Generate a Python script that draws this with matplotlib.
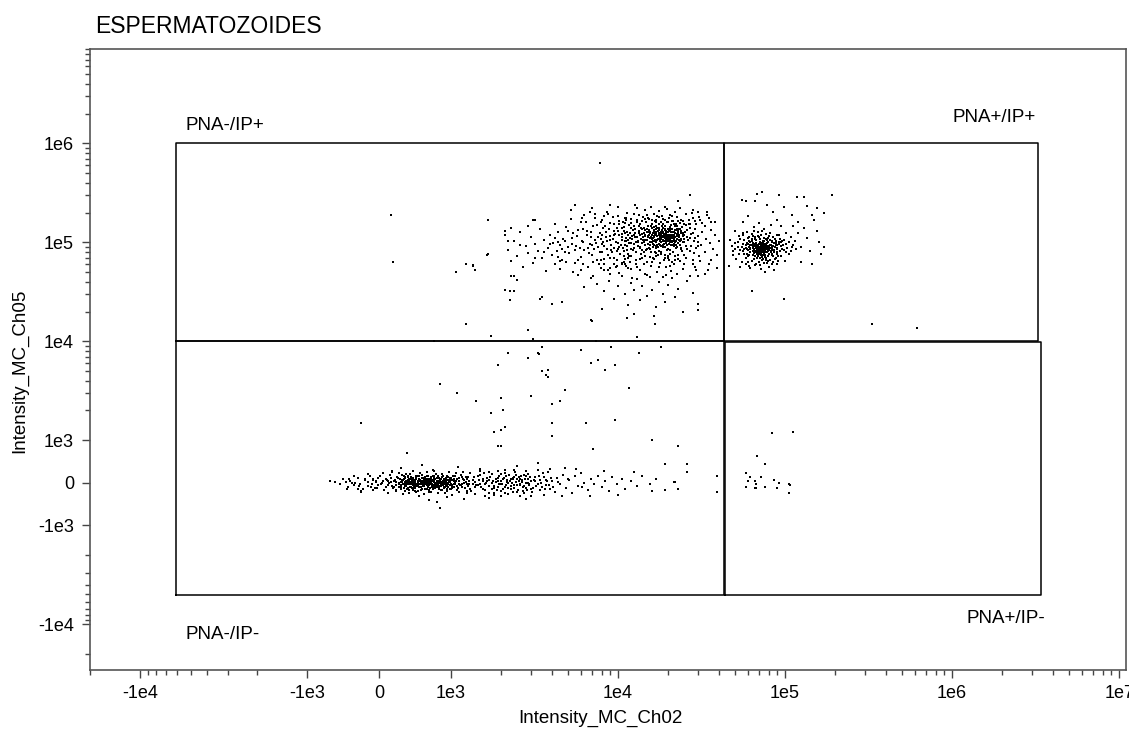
import numpy as np
import matplotlib
matplotlib.use("Agg")
import matplotlib.pyplot as plt

plt.rcParams["font.family"] = ["Liberation Sans", "DejaVu Sans"]

# ------------------------------------------------------------
# Data (Intensity_MC_Ch02, Intensity_MC_Ch05)
# ------------------------------------------------------------

# PNA-/IP+ population, dense core
ul_core = [
    (1.31e4, 9.2e4), (1.35e4, 1.18e5), (1.38e4, 7.6e4), (1.42e4, 1.05e5), (1.44e4, 1.41e5),
    (1.47e4, 8.4e4), (1.49e4, 1.27e5), (1.52e4, 9.7e4), (1.55e4, 7.1e4), (1.57e4, 1.12e5),
    (1.6e4, 1.52e5), (1.61e4, 8.9e4), (1.63e4, 1.03e5), (1.66e4, 1.21e5), (1.68e4, 7.8e4),
    (1.7e4, 1.36e5), (1.72e4, 9.4e4), (1.74e4, 1.09e5), (1.77e4, 8.2e4), (1.79e4, 1.25e5),
    (1.81e4, 1.01e5), (1.83e4, 1.46e5), (1.85e4, 9.0e4), (1.88e4, 1.15e5), (1.9e4, 7.4e4),
    (1.92e4, 1.32e5), (1.95e4, 9.8e4), (1.97e4, 1.07e5), (2.0e4, 8.6e4), (2.02e4, 1.2e5),
    (2.05e4, 1.42e5), (2.08e4, 9.3e4), (2.1e4, 1.1e5), (2.13e4, 7.9e4), (2.16e4, 1.28e5),
    (2.19e4, 1.0e5), (2.22e4, 8.8e4), (2.26e4, 1.17e5), (2.3e4, 1.37e5), (2.34e4, 9.5e4),
    (2.38e4, 1.06e5), (2.42e4, 8.1e4), (2.46e4, 1.23e5), (2.5e4, 1.0e5), (2.55e4, 9.1e4),
    (2.6e4, 1.14e5), (1.33e4, 1.3e5), (1.4e4, 9.9e4), (1.46e4, 1.16e5), (1.53e4, 1.34e5),
    (1.58e4, 8.0e4), (1.64e4, 1.13e5), (1.69e4, 1.48e5), (1.75e4, 1.19e5), (1.8e4, 9.2e4),
    (1.86e4, 1.06e5), (1.91e4, 1.21e5), (1.96e4, 8.3e4), (2.01e4, 1.3e5), (2.07e4, 1.04e5),
    (2.12e4, 1.19e5), (2.18e4, 1.45e5), (2.24e4, 1.02e5), (2.32e4, 1.12e5), (2.4e4, 1.3e5),
    (2.48e4, 1.08e5), (1.36e4, 8.7e4), (1.43e4, 1.24e5), (1.5e4, 1.05e5), (1.56e4, 1.26e5),
    (1.62e4, 9.6e4), (1.67e4, 1.06e5), (1.73e4, 1.29e5), (1.78e4, 1.04e5), (1.84e4, 1.17e5),
    (1.89e4, 9.6e4), (1.94e4, 1.13e5), (1.99e4, 1.38e5), (2.04e4, 1.0e5), (2.09e4, 1.26e5),
    (2.15e4, 9.1e4), (2.2e4, 1.13e5), (2.28e4, 1.25e5), (2.36e4, 1.02e5), (2.44e4, 1.16e5),
    (1.59e4, 1.39e5), (1.65e4, 1.32e5), (1.71e4, 1.15e5), (1.76e4, 1.55e5), (1.82e4, 1.11e5),
    (1.87e4, 1.39e5), (1.93e4, 1.04e5), (1.98e4, 1.16e5), (2.03e4, 9.6e4), (2.11e4, 1.35e5),
    (2.17e4, 1.08e5), (2.23e4, 1.32e5), (2.29e4, 9.8e4), (1.37e4, 1.09e5), (1.45e4, 9.3e4),
    (1.51e4, 1.17e5), (1.54e4, 8.8e4), (1.69e4, 1.0e5), (1.85e4, 1.27e5), (2.06e4, 1.16e5),
    (2.14e4, 1.03e5), (1.8e4, 1.07e5), (1.9e4, 1.1e5), (1.75e4, 9.7e4), (1.95e4, 1.24e5),
    (2.0e4, 1.1e5), (1.65e4, 1.15e5), (1.7e4, 8.7e4), (1.85e4, 1.02e5), (2.25e4, 1.08e5),
    (1.55e4, 1.0e5),
    (1.02e4, 1.65e5), (1.05e4, 6.2e4), (1.08e4, 1.44e5), (1.1e4, 9.5e4), (1.12e4, 1.78e5),
    (1.15e4, 7.0e4), (1.18e4, 1.1e5), (1.2e4, 1.57e5), (1.23e4, 8.3e4), (1.26e4, 1.35e5),
    (1.28e4, 6.0e4), (1.3e4, 1.7e5), (1.32e4, 1.03e5), (1.34e4, 1.48e5), (1.36e4, 6.8e4),
    (1.39e4, 1.22e5), (1.41e4, 1.82e5), (1.43e4, 8.0e4), (1.45e4, 1.33e5), (1.48e4, 1.6e5),
    (1.5e4, 6.4e4), (1.52e4, 1.12e5), (1.54e4, 1.74e5), (1.56e4, 8.6e4), (1.58e4, 1.45e5),
    (1.6e4, 1.0e5), (1.62e4, 6.9e4), (1.64e4, 1.26e5), (1.66e4, 1.64e5), (1.68e4, 9.1e4),
    (1.7e4, 1.19e5), (1.72e4, 1.86e5), (1.74e4, 7.5e4), (1.76e4, 1.4e5), (1.78e4, 9.5e4),
    (1.8e4, 1.6e5), (1.82e4, 8.0e4), (1.84e4, 1.23e5), (1.86e4, 1.72e5), (1.88e4, 6.6e4),
    (1.9e4, 1.47e5), (1.92e4, 9.0e4), (1.94e4, 1.3e5), (1.96e4, 1.62e5), (1.98e4, 7.2e4),
    (2.0e4, 1.26e5), (2.02e4, 1.77e5), (2.04e4, 8.4e4), (2.06e4, 1.08e5), (2.08e4, 1.5e5),
    (2.1e4, 6.3e4), (2.12e4, 1.12e5), (2.14e4, 1.63e5), (2.16e4, 9.7e4), (2.18e4, 1.24e5),
    (2.2e4, 7.3e4), (2.22e4, 1.52e5), (2.25e4, 9.0e4), (2.27e4, 1.36e5), (2.3e4, 6.8e4),
    (2.33e4, 1.18e5), (2.36e4, 1.58e5), (2.39e4, 8.6e4), (2.42e4, 1.42e5), (2.45e4, 1.0e5),
    (2.48e4, 7.4e4), (2.52e4, 1.28e5), (2.56e4, 1.5e5), (2.6e4, 8.5e4), (2.64e4, 1.05e5),
    (2.7e4, 1.4e5), (2.75e4, 9.2e4), (2.8e4, 1.25e5), (2.85e4, 7.8e4), (2.9e4, 1.1e5),
    (2.95e4, 1.52e5), (3.0e4, 1.0e5), (1.25e4, 1.2e5), (1.35e4, 9.0e4), (1.45e4, 1.06e5),
    (1.55e4, 1.24e5), (1.65e4, 9.4e4), (1.75e4, 1.08e5), (1.85e4, 1.4e5), (1.95e4, 9.9e4),
    (2.05e4, 1.3e5), (2.15e4, 1.14e5), (2.25e4, 1.22e5), (2.35e4, 9.3e4), (2.45e4, 1.2e5),
    (1.6e4, 1.18e5), (1.7e4, 1.28e5), (1.8e4, 1.18e5), (1.9e4, 1.02e5), (2.0e4, 1.18e5),
    (2.1e4, 9.5e4), (2.2e4, 1.04e5), (1.75e4, 1.33e5), (1.85e4, 9.4e4), (1.95e4, 1.08e5),
    (2.05e4, 1.2e5), (1.65e4, 1.04e5), (1.55e4, 1.1e5), (1.45e4, 1.2e5), (2.3e4, 1.3e5),
    (2.4e4, 1.08e5), (1.3e4, 1.12e5), (1.4e4, 1.35e5), (1.5e4, 8.5e4), (2.5e4, 1.18e5),
    (1.32e4, 1.0e5), (1.37e4, 1.41e5), (1.41e4, 1.13e5), (1.46e4, 7.3e4), (1.51e4, 1.46e5),
    (1.56e4, 9.4e4), (1.61e4, 1.24e5), (1.66e4, 8.0e4), (1.71e4, 1.06e5), (1.76e4, 1.25e5),
    (1.81e4, 7.6e4), (1.86e4, 1.12e5), (1.91e4, 1.36e5), (1.96e4, 9.3e4), (2.01e4, 1.05e5),
    (2.06e4, 7.7e4), (2.11e4, 1.0e5), (2.16e4, 1.18e5), (2.21e4, 9.5e4), (2.27e4, 1.45e5),
    (2.33e4, 1.06e5), (2.39e4, 1.24e5), (1.34e4, 1.24e5), (1.44e4, 1.0e5), (1.54e4, 1.2e5),
    (1.64e4, 1.43e5), (1.74e4, 9.0e4), (1.84e4, 1.33e5), (1.94e4, 1.18e5), (2.04e4, 1.36e5),
    (2.14e4, 1.27e5), (2.24e4, 9.3e4), (2.34e4, 1.36e5), (1.39e4, 8.3e4), (1.49e4, 1.38e5),
    (1.59e4, 1.08e5), (1.69e4, 1.22e5), (1.79e4, 1.12e5), (1.89e4, 1.22e5), (1.99e4, 1.02e5),
    (2.09e4, 1.13e5), (2.19e4, 1.34e5), (2.29e4, 1.15e5), (2.37e4, 8.7e4), (1.72e4, 1.4e5),
    (1.82e4, 1.28e5), (1.92e4, 1.15e5), (2.02e4, 1.12e5), (1.62e4, 1.1e5), (1.52e4, 1.28e5),
]

# PNA-/IP+ population, middle part of the cloud
ul_mid = [
    (5.1e3, 7.8e4), (5.3e3, 1.1e5), (5.5e3, 6.2e4), (5.6e3, 9.1e4), (5.8e3, 1.32e5),
    (6.0e3, 7.1e4), (6.1e3, 1.02e5), (6.3e3, 8.4e4), (6.5e3, 1.19e5), (6.6e3, 5.6e4),
    (6.8e3, 9.6e4), (7.0e3, 7.5e4), (7.1e3, 1.45e5), (7.3e3, 1.06e5), (7.5e3, 6.6e4),
    (7.6e3, 8.9e4), (7.8e3, 1.25e5), (8.0e3, 7.9e4), (8.1e3, 1.01e5), (8.3e3, 5.2e4),
    (8.5e3, 1.14e5), (8.6e3, 8.5e4), (8.8e3, 1.36e5), (9.0e3, 7.0e4), (9.1e3, 9.4e4),
    (9.3e3, 1.08e5), (9.5e3, 6.1e4), (9.6e3, 1.22e5), (9.8e3, 8.2e4), (1.0e4, 9.9e4),
    (1.02e4, 1.52e5), (1.03e4, 7.6e4), (1.05e4, 1.12e5), (1.07e4, 8.8e4), (1.08e4, 1.3e5),
    (1.1e4, 6.8e4), (1.12e4, 1.03e5), (1.14e4, 9.2e4), (1.15e4, 1.18e5), (1.17e4, 7.3e4),
    (1.19e4, 1.41e5), (1.2e4, 8.5e4), (1.22e4, 1.07e5), (1.24e4, 9.6e4), (1.26e4, 1.24e5),
    (1.28e4, 7.9e4), (1.29e4, 1.0e5), (5.4e3, 1.24e5), (5.9e3, 8.8e4), (6.2e3, 1.38e5),
    (6.7e3, 7.8e4), (6.9e3, 1.14e5), (7.2e3, 8.6e4), (7.7e3, 6.0e4), (7.9e3, 1.08e5),
    (8.2e3, 9.2e4), (8.4e3, 1.48e5), (8.7e3, 7.4e4), (8.9e3, 1.16e5), (9.2e3, 8.0e4),
    (9.4e3, 1.3e5), (9.7e3, 1.01e5), (9.9e3, 6.6e4), (1.01e4, 1.18e5), (1.04e4, 9.4e4),
    (1.06e4, 1.39e5), (1.09e4, 8.1e4), (1.11e4, 1.1e5), (1.13e4, 1.26e5), (1.16e4, 9.8e4),
    (1.18e4, 6.3e4), (1.21e4, 1.16e5), (1.23e4, 1.33e5), (1.25e4, 8.8e4), (1.27e4, 1.12e5),
    (1.11e4, 5.8e4), (9.0e3, 5.5e4), (1.2e4, 5.4e4), (1.06e4, 1.22e5), (1.15e4, 1.06e5),
    (1.24e4, 1.45e5), (7.4e3, 9.8e4), (8.0e3, 1.18e5), (1.18e4, 1.25e5), (1.0e4, 8.6e4),
    (4.2e3, 1.55e5), (4.5e3, 5.4e4), (4.8e3, 1.02e5), (5.2e3, 1.72e5), (5.5e3, 8.4e4),
    (5.7e3, 1.15e5), (6.0e3, 5.2e4), (6.2e3, 1.0e5), (6.4e3, 1.62e5), (6.6e3, 8.8e4),
    (6.9e3, 1.26e5), (7.1e3, 6.3e4), (7.3e3, 1.78e5), (7.6e3, 1.12e5), (7.8e3, 8.0e4),
    (8.1e3, 1.4e5), (8.3e3, 6.8e4), (8.6e3, 1.02e5), (8.9e3, 1.58e5), (9.1e3, 8.3e4),
    (9.4e3, 1.18e5), (9.7e3, 5.6e4), (9.9e3, 1.4e5), (1.02e4, 9.0e4), (1.05e4, 1.05e5),
    (1.08e4, 7.2e4), (1.1e4, 1.25e5), (1.13e4, 8.4e4), (1.16e4, 1.5e5), (1.19e4, 9.8e4),
    (5.0e3, 1.3e5), (5.8e3, 6.7e4), (6.5e3, 1.3e5), (7.0e3, 9.4e4), (7.5e3, 1.5e5),
    (8.0e3, 9.6e4), (8.5e3, 1.26e5), (9.0e3, 1.05e5), (9.5e3, 8.8e4), (1.0e4, 1.3e5),
    (1.05e4, 6.1e4), (1.1e4, 1.04e5), (1.15e4, 7.6e4), (6.3e3, 1.9e5), (8.7e3, 1.92e5),
    (1.0e4, 1.85e5), (4.4e3, 1.0e5), (5.3e3, 9.6e4), (7.9e3, 5.5e4), (1.12e4, 1.68e5),
]

# PNA-/IP+ population, upper and lower rims of the cloud
ul_rims = [
    (5.2e3, 2.1e5), (6.1e3, 1.75e5), (7.0e3, 2.25e5), (7.9e3, 1.62e5), (8.6e3, 2.05e5),
    (9.3e3, 1.8e5), (1.0e4, 2.3e5), (1.07e4, 1.6e5), (1.14e4, 2.0e5), (1.2e4, 1.72e5),
    (1.27e4, 2.4e5), (1.33e4, 1.88e5), (1.39e4, 1.65e5), (1.46e4, 2.12e5), (1.52e4, 1.78e5),
    (1.58e4, 2.3e5), (1.64e4, 1.95e5), (1.7e4, 1.6e5), (1.77e4, 2.08e5), (1.83e4, 1.84e5),
    (1.9e4, 1.68e5), (1.97e4, 2.18e5), (2.04e4, 1.9e5), (2.11e4, 1.66e5), (2.19e4, 2.02e5),
    (2.27e4, 1.8e5), (2.36e4, 2.25e5), (2.45e4, 1.63e5), (2.55e4, 1.92e5), (2.66e4, 1.7e5),
    (2.78e4, 2.0e5), (2.9e4, 1.65e5), (3.05e4, 1.82e5), (3.2e4, 1.58e5), (3.5e4, 1.75e5),
    (3.8e4, 1.6e5), (1.6e4, 1.7e5), (1.85e4, 1.55e5), (2.15e4, 1.52e5), (1.35e4, 1.55e5),
    (1.1e4, 1.58e5), (2.5e4, 1.55e5), (1.75e4, 1.8e5), (2.0e4, 1.62e5), (2.3e4, 1.66e5),
    (1.45e4, 1.72e5), (9.5e3, 1.55e5), (8.2e3, 1.85e5), (1.25e4, 1.95e5), (2.7e4, 1.52e5),
    (4.5e3, 6.5e4), (5.4e3, 5.0e4), (6.2e3, 6.0e4), (7.1e3, 4.6e4), (7.9e3, 6.7e4),
    (8.7e3, 5.3e4), (9.4e3, 6.9e4), (1.01e4, 4.9e4), (1.08e4, 6.4e4), (1.15e4, 5.5e4),
    (1.22e4, 4.4e4), (1.29e4, 6.6e4), (1.36e4, 5.2e4), (1.43e4, 6.1e4), (1.5e4, 4.7e4),
    (1.57e4, 5.8e4), (1.64e4, 6.8e4), (1.71e4, 5.0e4), (1.78e4, 6.2e4), (1.85e4, 4.5e4),
    (1.93e4, 5.6e4), (2.01e4, 6.6e4), (2.09e4, 5.1e4), (2.17e4, 6.0e4), (2.26e4, 4.8e4),
    (2.35e4, 6.5e4), (2.45e4, 5.4e4), (2.56e4, 6.9e4), (2.68e4, 4.6e4), (2.8e4, 6.0e4),
    (2.95e4, 5.2e4), (3.1e4, 6.5e4), (3.3e4, 4.8e4), (3.6e4, 6.6e4), (3.9e4, 5.5e4),
    (1.4e4, 7.0e4), (1.7e4, 7.2e4), (2.0e4, 7.0e4), (2.3e4, 7.4e4), (1.2e4, 7.3e4),
    (1.6e4, 6.4e4), (1.9e4, 6.9e4), (2.2e4, 6.7e4), (1.3e4, 5.7e4), (1.75e4, 5.6e4),
    (2.05e4, 5.8e4), (2.5e4, 6.1e4), (1.1e4, 6.0e4), (9.8e3, 5.8e4), (8.3e3, 6.1e4),
]

# PNA-/IP+ population, left and right flanks
ul_flanks = [
    (2.1e3, 1.18e5), (2.2e3, 8.4e4), (2.3e3, 6.5e4), (2.4e3, 1.02e5), (2.5e3, 7.3e4),
    (2.6e3, 1.27e5), (2.7e3, 5.6e4), (2.8e3, 9.1e4), (2.9e3, 7.8e4), (3.0e3, 1.12e5),
    (3.1e3, 6.2e4), (3.2e3, 9.6e4), (3.3e3, 8.1e4), (3.4e3, 1.35e5), (3.5e3, 7.0e4),
    (3.6e3, 1.05e5), (3.7e3, 5.1e4), (3.8e3, 8.7e4), (3.9e3, 1.19e5), (4.0e3, 7.4e4),
    (4.1e3, 9.8e4), (4.2e3, 6.0e4), (4.3e3, 8.2e4), (4.4e3, 1.28e5), (4.5e3, 9.3e4),
    (4.6e3, 6.7e4), (4.7e3, 1.08e5), (4.8e3, 7.9e4), (4.9e3, 1.42e5), (5.0e3, 9.0e4),
    (2.4e3, 4.6e4), (2.9e3, 1.45e5), (3.6e3, 8.0e4), (4.2e3, 1.1e5), (4.6e3, 8.6e4),
    (3.2e3, 6.9e4), (2.6e3, 9.5e4), (4.9e3, 6.4e4), (3.9e3, 9.6e4), (4.4e3, 7.1e4),
    (2.65e4, 1.55e5), (2.7e4, 8.2e4), (2.75e4, 1.21e5), (2.8e4, 6.6e4), (2.85e4, 1.02e5),
    (2.9e4, 1.38e5), (2.95e4, 8.8e4), (3.0e4, 1.15e5), (3.05e4, 7.2e4), (3.1e4, 1.68e5),
    (3.15e4, 9.5e4), (3.2e4, 1.26e5), (3.3e4, 8.0e4), (3.35e4, 1.08e5), (3.4e4, 1.9e5),
    (3.5e4, 6.1e4), (3.55e4, 9.8e4), (3.6e4, 1.34e5), (3.7e4, 8.5e4), (3.8e4, 1.18e5),
    (3.9e4, 7.5e4), (4.0e4, 1.04e5), (2.7e4, 1.1e5), (2.9e4, 5.6e4), (3.3e4, 1.47e5),
    (2.6e4, 1.32e5), (3.0e4, 9.2e4), (3.6e4, 1.62e5), (2.8e4, 1.76e5), (3.45e4, 5.3e4),
]

# PNA-/IP+ population, sparse points above and below the cloud
ul_edge = [
    (5.5e3, 2.4e5), (9.0e3, 2.4e5), (1.3e4, 2.2e5), (2.8e4, 2.1e5), (3.0e4, 2.05e5),
    (3.4e4, 2.05e5), (6.8e3, 2.05e5), (7.3e3, 1.95e5), (3.1e3, 1.67e5), (3.2e3, 1.67e5),
    (1.1e4, 1.75e5), (1.5e4, 1.9e5), (1.7e4, 1.68e5), (2.1e4, 1.85e5), (2.4e4, 1.7e5),
    (1.3e4, 1.62e5), (8.0e3, 1.7e5), (6.0e3, 1.6e5), (1.9e4, 2.3e5), (2.3e4, 2.6e5),
    (2.7e4, 3.0e5), (7.8e3, 6.3e5),
    (6.9e3, 4.4e4), (7.5e3, 3.8e4), (8.2e3, 3.2e4), (8.8e3, 4.1e4), (9.5e3, 2.7e4),
    (1.0e4, 3.6e4), (1.05e4, 4.6e4), (1.1e4, 3.0e4), (1.15e4, 2.3e4), (1.2e4, 3.9e4),
    (1.25e4, 3.3e4), (1.3e4, 4.3e4), (1.35e4, 2.6e4), (1.4e4, 3.6e4), (1.5e4, 2.9e4),
    (1.55e4, 4.5e4), (1.6e4, 3.3e4), (1.7e4, 2.2e4), (1.75e4, 4.0e4), (1.85e4, 3.0e4),
    (1.9e4, 2.5e4), (2.0e4, 3.7e4), (2.1e4, 4.4e4), (2.2e4, 2.8e4), (2.3e4, 3.4e4),
    (2.45e4, 2.0e4), (2.6e4, 4.1e4), (2.8e4, 3.1e4), (3.0e4, 2.4e4), (5.8e3, 4.7e4),
    (6.3e3, 3.5e4), (8.0e3, 2.1e4), (1.65e4, 1.8e4), (1.25e4, 1.9e4), (3.0e4, 4.6e4),
    (9.0e3, 4.8e4), (1.45e4, 4.8e4), (1.95e4, 4.7e4), (2.1e3, 3.3e4), (2.25e3, 3.2e4),
    (2.4e3, 3.2e4), (2.25e3, 2.6e4), (2.3e3, 4.6e4), (2.5e3, 4.2e4), (3.4e3, 2.7e4),
    (3.5e3, 2.8e4), (4.0e3, 2.4e4), (4.6e3, 2.5e4), (7.0e3, 1.6e4), (2.1e3, 1.3e5),
    (2.3e3, 1.4e5), (2.2e3, 1.03e5), (1.67e3, 1.7e5), (1.67e3, 7.7e4), (1.65e3, 7.4e4),
    (1.23e3, 6.0e4), (1.35e3, 5.9e4), (1.36e3, 5.8e4), (1.4e3, 5.3e4), (1.07e3, 5.0e4),
    (167, 1.9e5), (190, 6.4e4),
]

# PNA+/IP+ population
ur_core = [
    (5.6e4, 8.1e4), (5.8e4, 9.4e4), (6.0e4, 7.2e4), (6.1e4, 1.04e5), (6.2e4, 8.6e4),
    (6.3e4, 6.5e4), (6.4e4, 9.8e4), (6.5e4, 7.8e4), (6.6e4, 1.12e5), (6.7e4, 8.9e4),
    (6.8e4, 7.0e4), (6.9e4, 9.3e4), (7.0e4, 8.2e4), (7.1e4, 1.01e5), (7.2e4, 7.5e4),
    (7.3e4, 8.8e4), (7.4e4, 6.8e4), (7.5e4, 9.6e4), (7.6e4, 8.0e4), (7.7e4, 1.07e5),
    (7.8e4, 8.5e4), (7.9e4, 7.3e4), (8.0e4, 9.1e4), (8.2e4, 7.9e4), (8.4e4, 1.0e5),
    (8.6e4, 8.4e4), (8.8e4, 6.9e4), (9.0e4, 9.5e4), (9.3e4, 8.1e4), (9.6e4, 1.03e5),
    (5.7e4, 1.06e5), (5.9e4, 7.7e4), (6.1e4, 9.0e4), (6.3e4, 1.09e5), (6.5e4, 9.4e4),
    (6.6e4, 7.3e4), (6.8e4, 8.5e4), (6.9e4, 1.16e5), (7.0e4, 7.6e4), (7.1e4, 9.0e4),
    (7.2e4, 9.9e4), (7.3e4, 7.1e4), (7.4e4, 8.3e4), (7.5e4, 1.1e5), (7.6e4, 8.7e4),
    (7.7e4, 6.6e4), (7.8e4, 9.8e4), (8.0e4, 8.3e4), (8.1e4, 1.05e5), (8.3e4, 7.4e4),
    (8.5e4, 9.2e4), (8.7e4, 1.08e5), (8.9e4, 8.0e4), (9.1e4, 7.2e4), (9.4e4, 9.1e4),
    (5.5e4, 9.0e4), (5.8e4, 7.0e4), (6.0e4, 9.7e4), (6.2e4, 7.9e4), (6.4e4, 8.8e4),
    (6.6e4, 8.2e4), (6.7e4, 9.9e4), (6.9e4, 7.8e4), (7.0e4, 8.9e4), (7.1e4, 7.0e4),
    (7.2e4, 8.4e4), (7.3e4, 9.5e4), (7.4e4, 1.02e5), (7.5e4, 7.7e4), (7.6e4, 9.2e4),
    (7.7e4, 8.0e4), (7.9e4, 8.7e4), (8.1e4, 9.5e4), (8.2e4, 8.8e4), (8.4e4, 7.7e4),
    (8.6e4, 9.8e4), (8.9e4, 8.7e4), (9.2e4, 1.0e5), (6.4e4, 1.16e5), (7.0e4, 6.4e4),
    (7.8e4, 6.2e4), (6.0e4, 6.3e4), (8.5e4, 6.4e4), (7.2e4, 1.2e5), (8.0e4, 1.17e5),
    (6.7e4, 8.0e4), (7.3e4, 8.1e4), (6.8e4, 9.2e4), (7.5e4, 8.6e4), (7.1e4, 8.5e4),
    (6.5e4, 8.6e4), (7.7e4, 9.4e4), (6.3e4, 9.3e4), (8.3e4, 8.4e4), (6.9e4, 8.3e4),
    (7.4e4, 7.4e4), (7.9e4, 1.0e5), (6.2e4, 1.0e5), (8.8e4, 9.3e4), (7.6e4, 7.1e4),
    (6.5e4, 8.4e4), (6.7e4, 8.7e4), (6.9e4, 8.8e4), (7.1e4, 8.1e4), (7.3e4, 8.6e4),
    (7.5e4, 8.2e4), (7.7e4, 8.9e4), (6.6e4, 9.1e4), (6.8e4, 7.6e4), (7.0e4, 9.6e4),
    (7.2e4, 7.8e4), (7.4e4, 9.1e4), (7.6e4, 7.5e4), (7.8e4, 9.1e4), (8.0e4, 7.7e4),
    (8.2e4, 9.3e4), (6.4e4, 7.5e4), (6.2e4, 9.5e4), (6.0e4, 8.4e4), (5.8e4, 8.8e4),
    (8.4e4, 8.7e4), (8.6e4, 7.9e4), (8.8e4, 9.9e4), (9.0e4, 8.5e4), (6.1e4, 7.5e4),
    (6.3e4, 1.03e5), (6.5e4, 6.8e4), (6.7e4, 1.05e5), (6.9e4, 7.2e4), (7.1e4, 1.08e5),
    (7.3e4, 6.6e4), (7.5e4, 1.03e5), (7.7e4, 7.0e4), (7.9e4, 1.1e5), (8.1e4, 6.7e4),
    (8.3e4, 1.02e5), (8.5e4, 7.2e4), (8.7e4, 9.0e4), (5.9e4, 9.9e4), (5.7e4, 7.7e4),
    (6.6e4, 9.7e4), (6.8e4, 8.2e4), (7.0e4, 8.5e4), (7.2e4, 9.2e4), (7.4e4, 8.0e4),
    (7.6e4, 8.4e4), (7.8e4, 7.9e4), (8.0e4, 8.8e4), (6.4e4, 8.1e4), (6.2e4, 8.7e4),
    (7.05e4, 7.9e4), (7.35e4, 9.9e4), (6.75e4, 9.4e4), (7.65e4, 9.7e4), (6.45e4, 9.1e4),
    (7.95e4, 8.2e4), (8.25e4, 8.1e4), (6.85e4, 8.9e4), (7.15e4, 9.4e4), (7.45e4, 8.7e4),
    (5.2e4, 9.0e4), (5.3e4, 7.6e4), (5.4e4, 1.08e5), (5.5e4, 6.4e4), (5.6e4, 1.18e5),
    (5.7e4, 8.5e4), (5.8e4, 6.0e4), (5.9e4, 1.26e5), (6.0e4, 1.1e5), (6.1e4, 5.8e4),
    (6.3e4, 1.22e5), (6.5e4, 1.3e5), (6.7e4, 6.1e4), (6.9e4, 1.27e5), (7.1e4, 5.9e4),
    (7.3e4, 1.3e5), (7.5e4, 6.2e4), (7.7e4, 1.22e5), (7.9e4, 6.5e4), (8.1e4, 1.24e5),
    (8.3e4, 6.0e4), (8.5e4, 1.13e5), (8.7e4, 6.8e4), (8.9e4, 1.18e5), (9.1e4, 6.5e4),
    (9.3e4, 1.09e5), (9.5e4, 7.3e4), (9.7e4, 9.4e4), (9.9e4, 1.05e5), (1.01e5, 7.9e4),
    (1.03e5, 8.8e4), (1.06e5, 1.0e5), (1.09e5, 8.2e4), (1.12e5, 9.4e4), (1.16e5, 8.6e4),
    (5.0e4, 9.8e4), (4.9e4, 8.2e4), (9.6e4, 8.6e4), (9.4e4, 1.0e5), (5.4e4, 8.3e4),
    (5.6e4, 9.6e4), (9.2e4, 9.6e4), (9.0e4, 7.6e4), (5.9e4, 8.5e4), (8.8e4, 1.03e5),
    (6.1e4, 1.12e5), (8.3e4, 9.0e4), (6.6e4, 1.09e5), (7.8e4, 1.05e5), (7.0e4, 1.12e5),
]

ur_halo = [
    (5.0e4, 8.5e4), (5.2e4, 1.0e5), (5.1e4, 6.8e4), (5.3e4, 1.15e5), (4.8e4, 9.2e4),
    (4.9e4, 7.4e4), (4.6e4, 5.8e4), (4.7e4, 1.06e5), (5.4e4, 5.6e4), (5.0e4, 1.3e5),
    (9.8e4, 8.4e4), (1.02e5, 9.6e4), (1.05e5, 7.6e4), (1.08e5, 1.12e5), (1.1e5, 8.9e4),
    (1.15e5, 1.02e5), (1.2e5, 1.25e5), (1.25e5, 9.0e4), (1.3e5, 1.4e5), (1.36e5, 1.1e5),
    (1.42e5, 8.2e4), (1.5e5, 1.7e5), (1.55e5, 1.3e5), (1.6e5, 1.0e5), (1.65e5, 7.6e4),
    (1.45e5, 1.9e5), (1.7e5, 2.0e5), (1.35e5, 2.35e5), (1.2e5, 1.6e5), (1.1e5, 1.9e5),
    (9.5e4, 1.45e5), (9.0e4, 1.7e5), (8.2e4, 1.5e5), (7.5e4, 1.35e5), (7.0e4, 1.58e5),
    (6.5e4, 1.42e5), (6.0e4, 1.85e5), (5.6e4, 1.6e5), (8.5e4, 2.05e5), (7.8e4, 2.4e5),
    (6.8e4, 3.1e5), (9.8e4, 2.3e5), (1.18e5, 2.9e5), (5.8e4, 2.6e5), (1.55e5, 2.2e5),
    (6.2e4, 5.5e4), (7.2e4, 5.4e4), (8.0e4, 5.6e4), (9.0e4, 6.0e4), (1.0e5, 6.5e4),
    (7.6e4, 5.0e4), (8.6e4, 5.3e4), (6.6e4, 5.9e4), (1.25e5, 6.4e4), (1.7e5, 9.0e4),
    (1.45e5, 6.0e4), (1.02e5, 1.25e5), (9.2e4, 1.2e5), (5.6e4, 1.25e5), (1.12e5, 1.45e5),
    (7.3e4, 3.2e5), (9.2e4, 3.0e5), (1.3e5, 2.9e5), (1.9e5, 3.0e5), (5.5e4, 2.7e5),
    (6.6e4, 2.6e5), (6.3e4, 3.2e4), (9.9e4, 2.65e4), (3.3e5, 1.5e4), (6.2e5, 1.35e4),
]

# PNA-/IP- population (band around Ch05 = 0)
ll_core = [
    (20, -40), (60, 30), (90, -90), (110, 70), (140, -10), (160, 110), (190, -130), (210, 40),
    (230, -60), (250, 130), (270, -20), (290, 80), (310, -110), (320, 10), (340, 150), (360, -70),
    (370, 50), (390, -150), (400, -30), (410, 100), (430, -90), (440, 20), (450, 140), (470, -50),
    (480, 60), (490, -120), (500, 0), (520, 90), (530, -40), (540, 160), (560, -100), (570, 30),
    (580, -160), (590, 110), (600, -20), (620, 70), (630, -80), (640, 130), (650, -10), (660, -140),
    (680, 50), (690, -60), (700, 100), (710, -120), (720, 20), (740, -30), (750, 150), (760, -90),
    (770, 60), (780, -10), (800, 120), (810, -70), (820, 30), (840, -130), (850, 90), (860, -40),
    (870, 10), (880, 140), (900, -100), (910, 50), (920, -20), (930, 110), (950, -150), (960, 0),
    (970, 70), (990, -60), (1000, 120), (1020, -90), (1040, 40), (1060, -20), (1080, 100),
    (1100, -120), (1120, 30), (1150, -50), (1180, 80), (1200, -10), (1230, 130), (1260, -80),
    (1290, 50), (1300, -140), (130, 40), (180, -80), (240, 20), (280, -100), (330, 60), (380, -20),
    (420, -160), (460, 120), (510, -80), (550, 40), (610, -50), (670, 90), (730, -110), (790, 0),
    (830, -150), (890, 40), (940, -70), (980, 30), (1010, -130), (1050, 80), (1110, -30),
    (1170, 140), (1240, -20), (350, -30), (450, -40), (550, -20), (650, 30), (750, -50), (850, 20),
    (950, 60), (300, 10), (400, 60), (500, -60), (600, 40), (700, -10), (800, -40), (900, 0),
    (1000, -30), (460, 10), (560, 70), (660, -30), (760, 10), (860, -80), (960, -110), (1060, 10),
    (1160, -90), (1250, 100), (580, -10), (680, -70), (780, 80),
    (-80, 70), (-30, -120), (10, 150), (40, -10), (70, -170), (100, 90), (120, -50), (150, 180),
    (170, 10), (200, -100), (220, 60), (240, -180), (260, 110), (280, 0), (300, -140), (315, 190),
    (330, -30), (345, 80), (355, -200), (365, 130), (375, -80), (385, 20), (395, 170), (405, -120),
    (415, 40), (425, -40), (435, 200), (445, -90), (455, 70), (465, -160), (475, 110), (485, -20),
    (495, 30), (505, -130), (515, 150), (525, -60), (535, 10), (545, -190), (555, 100), (565, -30),
    (575, 60), (585, -110), (595, 180), (605, 0), (615, -70), (625, 120), (635, -150), (645, 40),
    (655, -40), (665, 160), (675, -100), (685, 20), (695, -210), (705, 80), (715, -20), (725, 140),
    (735, -80), (745, 30), (755, -140), (765, 110), (775, -50), (785, 200), (795, -100), (805, 50),
    (815, -10), (825, 150), (835, -70), (845, 60), (855, -180), (865, 100), (875, -30), (885, 0),
    (895, 170), (905, -130), (915, 80), (925, -60), (935, 20), (945, -200), (955, 130), (965, -10),
    (975, 40), (985, -140), (995, 90), (1010, -50), (1030, 170), (1050, -100), (1070, 30),
    (1090, -170), (1110, 110), (1130, -60), (1150, 190), (1170, -20), (1190, 60), (1210, -130),
    (1230, 20), (1250, -200), (1270, 140), (1290, -40), (440, -10), (540, 50), (640, -20), (740, 60),
    (840, -10), (940, -30), (490, -70), (590, 30), (690, 50), (790, -80), (890, -60), (990, 10),
    (360, 20), (470, 0), (620, 10), (720, -40), (820, -90), (920, 30), (520, -20), (630, -40),
    (710, 40), (810, 10),
    (300, -60), (320, 70), (340, -120), (360, 110), (380, -40), (400, 140), (420, -10), (440, 90),
    (460, -130), (480, 30), (500, -190), (520, 130), (540, -70), (560, 170), (580, 40), (600, -150),
    (620, -10), (640, 90), (660, -60), (680, 150), (700, -170), (720, 90), (740, -20), (760, 170),
    (780, -130), (800, 40), (820, -60), (840, 120), (860, -10), (880, -170), (900, 80), (920, -100),
    (940, 160), (960, -40), (980, 110), (1000, -150), (1020, 60), (1040, -30), (1060, 150),
    (1080, -80),
]

# PNA-/IP- band, outer rim
ll_rim = [
    (50, 220), (120, -230), (180, 260), (230, -200), (280, 240), (330, -260), (380, 210),
    (420, -240), (470, 270), (520, -210), (570, 230), (620, -270), (670, 250), (720, -220),
    (770, 280), (820, -250), (870, 210), (920, -230), (970, 260), (1020, -280), (1070, 230),
    (1120, -210), (1180, 260), (1240, -240), (1300, 220), (1.4e3, -270), (1.5e3, 280),
    (1.6e3, -300), (1.7e3, 250), (1.8e3, -290), (1.9e3, 270), (2.0e3, -310), (2.1e3, 300),
    (2.2e3, -270), (2.4e3, 290), (2.6e3, -300), (2.8e3, 270), (3.0e3, -320), (3.3e3, 290),
    (3.6e3, -280), (-150, 200), (-250, -220), (-350, 160), (-450, -150), (-500, 80),
    (-540, -40), (-380, -10), (-420, 90), (-460, 20), (-300, -150),
]

ll_mid = [
    (1.35e3, 60), (1.4e3, -110), (1.45e3, 170), (1.5e3, -20), (1.55e3, 100), (1.6e3, -180),
    (1.65e3, 30), (1.7e3, -70), (1.75e3, 210), (1.8e3, -130), (1.85e3, 10), (1.9e3, 120),
    (1.95e3, -40), (2.0e3, -200), (2.05e3, 80), (2.1e3, -90), (2.15e3, 160), (2.2e3, -10),
    (2.25e3, 50), (2.3e3, -150), (2.35e3, 110), (2.4e3, -60), (2.45e3, 20), (2.5e3, -220),
    (2.55e3, 140), (2.6e3, -30), (2.65e3, 70), (2.7e3, -110), (2.75e3, 190), (2.8e3, 0),
    (2.85e3, -170), (2.9e3, 90), (2.95e3, -50), (3.0e3, 40), (3.1e3, -120), (3.2e3, 130),
    (3.3e3, -20), (3.4e3, 60), (3.5e3, -90), (1.4e3, 10), (1.5e3, 190), (1.6e3, -40),
    (1.7e3, 60), (1.8e3, -230), (1.9e3, -100), (2.0e3, 30), (2.1e3, 220), (2.2e3, -120),
    (2.3e3, 80), (2.4e3, 140), (2.5e3, -60), (2.6e3, 100), (2.7e3, -190), (2.8e3, 160),
    (2.9e3, -10), (3.0e3, -140), (3.2e3, 30), (3.4e3, -180), (1.55e3, -140), (1.75e3, -10),
    (1.95e3, 150), (2.15e3, -50), (2.35e3, -220), (2.55e3, 30), (2.75e3, -70), (1.45e3, -60),
    (1.65e3, 120), (1.85e3, 80), (2.05e3, -150), (2.45e3, 180),
    (1.32e3, -190), (1.38e3, 130), (1.42e3, -50), (1.48e3, 60), (1.52e3, -100), (1.58e3, 230),
    (1.62e3, -10), (1.68e3, -230), (1.72e3, 140), (1.78e3, 40), (1.82e3, -80), (1.88e3, -160),
    (1.92e3, 50), (1.98e3, 210), (2.02e3, -30), (2.08e3, 120), (2.12e3, -240), (2.18e3, 70),
    (2.22e3, 180), (2.28e3, -80), (2.32e3, 0), (2.38e3, -130), (2.42e3, 250), (2.48e3, 90),
    (2.52e3, -170), (2.58e3, -60), (2.62e3, 170), (2.68e3, 20), (2.72e3, -250), (2.78e3, 80),
    (2.82e3, -120), (2.88e3, 200), (2.92e3, -30), (2.98e3, 130), (3.05e3, -210), (3.15e3, 70),
    (3.25e3, -80), (3.35e3, 170), (3.45e3, -10), (3.55e3, 230), (3.65e3, -140), (3.75e3, 40),
    (3.85e3, -60), (3.95e3, 110), (1.36e3, -20), (1.56e3, 40), (1.76e3, -150), (1.96e3, -40),
    (2.16e3, 20), (2.36e3, 100),
]

ll_tail = [
    (3.6e3, 140), (3.7e3, -60), (3.8e3, 260), (3.9e3, -150), (4.0e3, 40), (4.2e3, -220),
    (4.3e3, 110), (4.5e3, -30), (4.7e3, 190), (4.9e3, -120), (5.1e3, 60), (5.3e3, -250),
    (5.5e3, 150), (5.8e3, -70), (6.0e3, 240), (6.3e3, 0), (6.6e3, -160), (6.9e3, 90),
    (7.2e3, -40), (7.6e3, 170), (8.0e3, -110), (8.4e3, 50), (8.8e3, -200), (9.2e3, 130),
    (9.8e3, -20), (1.05e4, 80), (1.1e4, -150), (1.2e4, 40), (1.3e4, -80), (1.4e4, 160),
    (1.55e4, -30), (1.7e4, 90), (1.9e4, -180), (3.9e3, 320), (4.6e3, -320), (5.6e3, 330),
    (6.8e3, -300), (8.2e3, 280), (1.0e4, -280), (1.25e4, 250), (3.7e3, 70), (4.1e3, -90),
    (4.4e3, 20), (5.0e3, 100), (6.1e3, -100), (2.15e4, 20), (2.2e4, 20), (1.6e4, -200),
    (2.3e4, -150), (3.9e4, -210), (3.9e4, 150),
]

ll_left = [
    (-680, 30), (-620, 20), (-440, -100), (-400, 40), (-350, -60), (-300, 120), (-260, -20),
    (-220, -140), (-190, 60), (-160, -80), (-130, 150), (-100, -30), (-80, 90), (-60, -120),
    (-40, 20), (-20, -60), (-10, 110), (-250, -200), (-330, 0), (-150, 10), (-90, -180),
    (-50, 50), (-120, -110), (-200, 80), (-280, -70),
]

ll_scatter = [
    (390, 700), (2.0e3, 860), (7.1e3, 800), (1.6e4, 1.0e3), (2.3e4, 860), (1.9e4, 450),
    (2.6e4, 430), (2.6e4, 260), (850, -600), (700, -400), (800, -450), (300, 350), (600, 420),
    (1.1e3, 380), (1.5e3, 330), (2.5e3, 400), (3.3e3, 460), (4.8e3, 350), (950, -330),
    (1.2e3, -380), (560, -300), (1.7e3, -350), (2.8e3, -380), (180, 280), (750, 300),
]

# sparse events between the populations
sparse_pts = [
    (1.23e3, 1.5e4), (1.74e3, 1.12e4), (2.9e3, 1.29e4), (3.1e3, 1.05e4), (765, 1.0e4),
    (6.9e3, 1.63e4), (7.4e3, 1.0e4), (1.13e4, 1.7e4), (1.3e4, 1.1e4), (1.66e4, 1.5e4),
    (3.0e4, 2.05e4), (2.2e3, 7.7e3), (3.5e3, 8.7e3), (2.9e3, 6.7e3), (3.3e3, 7.7e3),
    (3.35e3, 7.4e3), (1.92e3, 5.7e3), (6.0e3, 8.1e3), (9.1e3, 8.7e3), (6.9e3, 6.1e3),
    (7.6e3, 6.4e3), (8.4e3, 5.1e3), (9.6e3, 5.7e3), (1.34e4, 7.7e3), (1.8e4, 8.7e3),
    (3.5e3, 5.0e3), (3.8e3, 5.1e3), (3.7e3, 4.6e3), (3.8e3, 4.4e3), (850, 3.7e3),
    (1.09e3, 3.0e3), (1.42e3, 2.5e3), (2.0e3, 2.65e3), (1.74e3, 1.9e3), (2.05e3, 2.0e3),
    (3.0e3, 2.8e3), (4.5e3, 2.5e3), (4.8e3, 3.2e3), (4.0e3, 2.3e3), (1.17e4, 3.4e3),
    (-250, 1.5e3), (4.0e3, 1.5e3), (6.4e3, 1.5e3), (9.6e3, 1.6e3), (1.8e3, 1.2e3),
    (2.0e3, 1.26e3), (2.1e3, 1.35e3), (4.0e3, 1.1e3), (1.9e3, 860),
]

# PNA+/IP- events
lr_pts = [
    (8.4e4, 1.18e3), (1.12e5, 1.2e3), (6.8e4, 625), (7.6e4, 430), (5.8e4, 240), (6.2e4, 145),
    (7.2e4, 145), (6.0e4, 50), (6.6e4, 50), (6.7e4, -25), (8.6e4, 70), (9.2e4, 0),
    (1.05e5, -25), (1.07e5, -50), (5.8e4, -100), (6.6e4, -120), (6.7e4, -120), (7.6e4, -100),
    (9.0e4, -120), (1.05e5, -240),
]

# crowded groups are drawn with slightly larger dots so they read as solid blobs
dense_groups = [ul_core, ur_core, ll_core]
other_groups = [ul_mid, ul_rims, ul_flanks, ul_edge, ur_halo,
                ll_rim, ll_mid, ll_tail, ll_left, ll_scatter, sparse_pts, lr_pts]

# gates: (x0, x1, y0, y1)
gates = {
    "PNA-/IP+": (-6.1e3, 4.3e4, 1.0e4, 1.0e6),
    "PNA+/IP+": (4.3e4, 3.28e6, 1.0e4, 1.0e6),
    "PNA-/IP-": (-6.1e3, 4.3e4, -5.1e3, 1.0e4),
    "PNA+/IP-": (4.4e4, 3.43e6, -5.1e3, 9.8e3),
}

x_major = [-1e4, -1e3, 0, 1e3, 1e4, 1e5, 1e6, 1e7]
x_major_labels = ["-1e4", "-1e3", "0", "1e3", "1e4", "1e5", "1e6", "1e7"]
y_major = [-1e4, -1e3, 0, 1e3, 1e4, 1e5, 1e6]
y_major_labels = ["-1e4", "-1e3", "0", "1e3", "1e4", "1e5", "1e6"]


# ------------------------------------------------------------
# Hyperlog-like axis: linear within +-1e3, log10 beyond
# ------------------------------------------------------------

LIN = 1e3
K = 0.43


def fwd(v):
    v = np.asarray(v, dtype=float)
    a = np.abs(v)
    return np.where(a <= LIN, v / LIN * K,
                    np.sign(v) * (K + np.log10(np.maximum(a, LIN) / LIN)))


def inv(u):
    u = np.asarray(u, dtype=float)
    a = np.abs(u)
    return np.where(a <= K, u / K * LIN,
                    np.sign(u) * LIN * 10 ** (np.maximum(a, K) - K))


def minor_ticks(lo, hi):
    out = []
    for d in [1e3, 1e4, 1e5, 1e6]:
        for m in range(2, 10):
            for s in (-1, 1):
                v = s * m * d
                if lo <= v <= hi:
                    out.append(v)
    return out


# ------------------------------------------------------------
# Plot
# ------------------------------------------------------------

fig = plt.figure(figsize=(11.29, 7.31), dpi=100)
ax = fig.add_axes([90 / 1129, 61 / 731, 1036 / 1129, 621 / 731])

ax.set_xscale("function", functions=(fwd, inv))
ax.set_yscale("function", functions=(fwd, inv))

dense = np.array([p for g in dense_groups for p in g])
other = np.array([p for g in other_groups for p in g])
ax.plot(other[:, 0], other[:, 1], "s", ms=1.6, mew=0, color="black")
ax.plot(dense[:, 0], dense[:, 1], "s", ms=1.9, mew=0, color="black")

for name, (x0, x1, y0, y1) in gates.items():
    ax.plot([x0, x1, x1, x0, x0], [y0, y0, y1, y1, y0], color="black", lw=1.1)

xlim = (-2.0e4, 1.1e7)
ylim = (-2.9e4, 9.0e6)
ax.set_xlim(*xlim)
ax.set_ylim(*ylim)

ax.set_xticks(x_major)
ax.set_xticklabels(x_major_labels)
ax.set_yticks(y_major)
ax.set_yticklabels(y_major_labels)
ax.set_xticks(minor_ticks(*xlim) + [1e7], minor=True)
ax.set_yticks(minor_ticks(*ylim), minor=True)

ax.tick_params(which="major", direction="out", length=6, width=1, color="#444444",
               labelsize=13, pad=4.5)
ax.tick_params(which="minor", direction="out", length=3.5, width=1, color="#444444")
ax.tick_params(axis="y", which="major", pad=5.5)
for sp in ax.spines.values():
    sp.set_color("#555555")
    sp.set_linewidth(1.2)

# quadrant labels
ax.text(0.0917, 0.870, "PNA-/IP+", transform=ax.transAxes, fontsize=13.5, va="baseline")
ax.text(0.833, 0.883, "PNA+/IP+", transform=ax.transAxes, fontsize=13.5, va="baseline")
ax.text(0.0917, 0.050, "PNA-/IP-", transform=ax.transAxes, fontsize=13.5, va="baseline")
ax.text(0.8465, 0.076, "PNA+/IP-", transform=ax.transAxes, fontsize=13.5, va="baseline")

fig.text(95 / 1129, 1 - 33 / 731, "ESPERMATOZOIDES", fontsize=16.5, va="baseline")
fig.text(600 / 1129, 1 - 718 / 731, "Intensity_MC_Ch02", fontsize=13.5,
         ha="center", va="center")
fig.text(20 / 1129, 1 - 371 / 731, "Intensity_MC_Ch05", fontsize=13.5,
         ha="center", va="center", rotation=90)

fig.savefig("out.png", dpi=100)
